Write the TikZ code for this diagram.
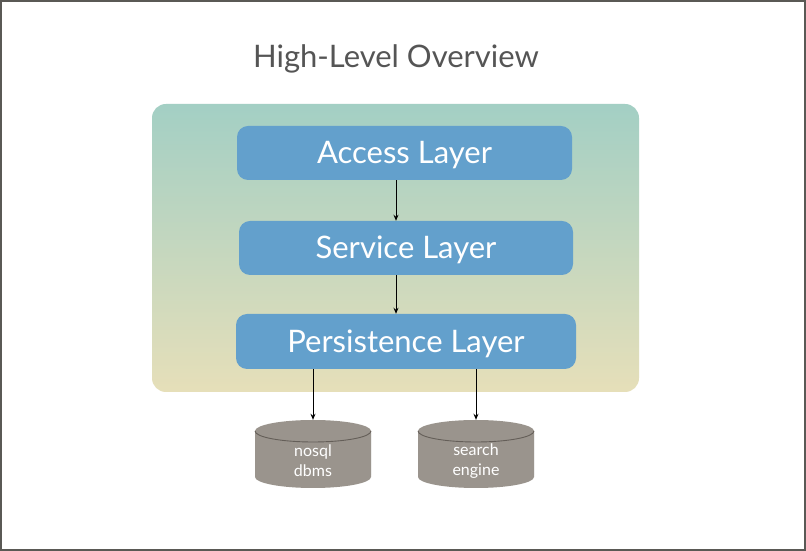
\documentclass[tikz,border=0pt]{standalone}
\usepackage{fontspec}
\setmainfont{Lato}
\usetikzlibrary{arrows.meta}
\definecolor{framegray}{RGB}{90,89,85}
\definecolor{titlegray}{RGB}{85,85,85}
\definecolor{paneltop}{RGB}{163,207,196}
\definecolor{panelbottom}{RGB}{230,223,185}
\definecolor{layerblue}{RGB}{99,160,204}
\definecolor{dbgray}{RGB}{154,148,141}
\definecolor{dbedge}{RGB}{100,94,88}

\begin{document}
\begin{tikzpicture}[x=1pt,y=1pt,
  panel/.style={rectangle,rounded corners=14pt,top color=paneltop,bottom color=panelbottom,minimum width=487pt,minimum height=288pt},
  layer/.style={rectangle,rounded corners=11pt,fill=layerblue,text=white,font=\fontsize{31}{36}\selectfont,
    text height=22pt,text depth=0pt,minimum height=54pt},
  db/.style={rectangle,inner sep=0pt,minimum width=116pt,minimum height=82pt,
    text=white,align=center,font=\fontsize{16}{20}\selectfont},
  link/.style={-{Stealth[length=6pt,width=5pt]},line width=1pt}]
\useasboundingbox (0,0) rectangle (806,551);
\fill[white] (0,0) rectangle (806,551);
\draw[framegray,line width=2pt] (1,1) rectangle (805,550);

\node[text=titlegray,font=\fontsize{31}{36}\selectfont,anchor=base] (title) at (396,483) {High-Level Overview};

\node[panel] (stack) at (395.5,303) {};
\node[layer,minimum width=335pt] (access) at (404.5,398) {Access Layer};
\node[layer,minimum width=334pt] (service) at (406,303) {Service Layer};
\node[layer,minimum width=340pt,minimum height=55pt] (persist) at (406,209.5) {Persistence Layer};

\foreach \n/\x in {nosql/313,search/476}{
  \fill[black,opacity=0.12] (\x-58,76) -- (\x-58,118) arc[start angle=180,end angle=0,x radius=58,y radius=11]
    -- (\x+58,76) arc[start angle=0,end angle=-180,x radius=58,y radius=11] -- cycle;
  \fill[dbgray] (\x-58,74) -- (\x-58,120) arc[start angle=180,end angle=0,x radius=58,y radius=11]
    -- (\x+58,74) arc[start angle=0,end angle=-180,x radius=58,y radius=11] -- cycle;
  \draw[dbedge,line width=0.9pt] (\x-58,120) arc[start angle=180,end angle=360,x radius=58,y radius=11];
}
\node[db] (nosql) at (313,90) {nosql\\dbms};
\node[db] (search) at (476,90) {search\\engine};

\draw[link] (access.south -| 396,0) -- (service.north -| 396,0);
\draw[link] (service.south -| 396,0) -- (persist.north -| 396,0);
\draw[link] (persist.south -| nosql.north) -- (nosql.north);
\draw[link] (persist.south -| search.north) -- (search.north);
\end{tikzpicture}
\end{document}
